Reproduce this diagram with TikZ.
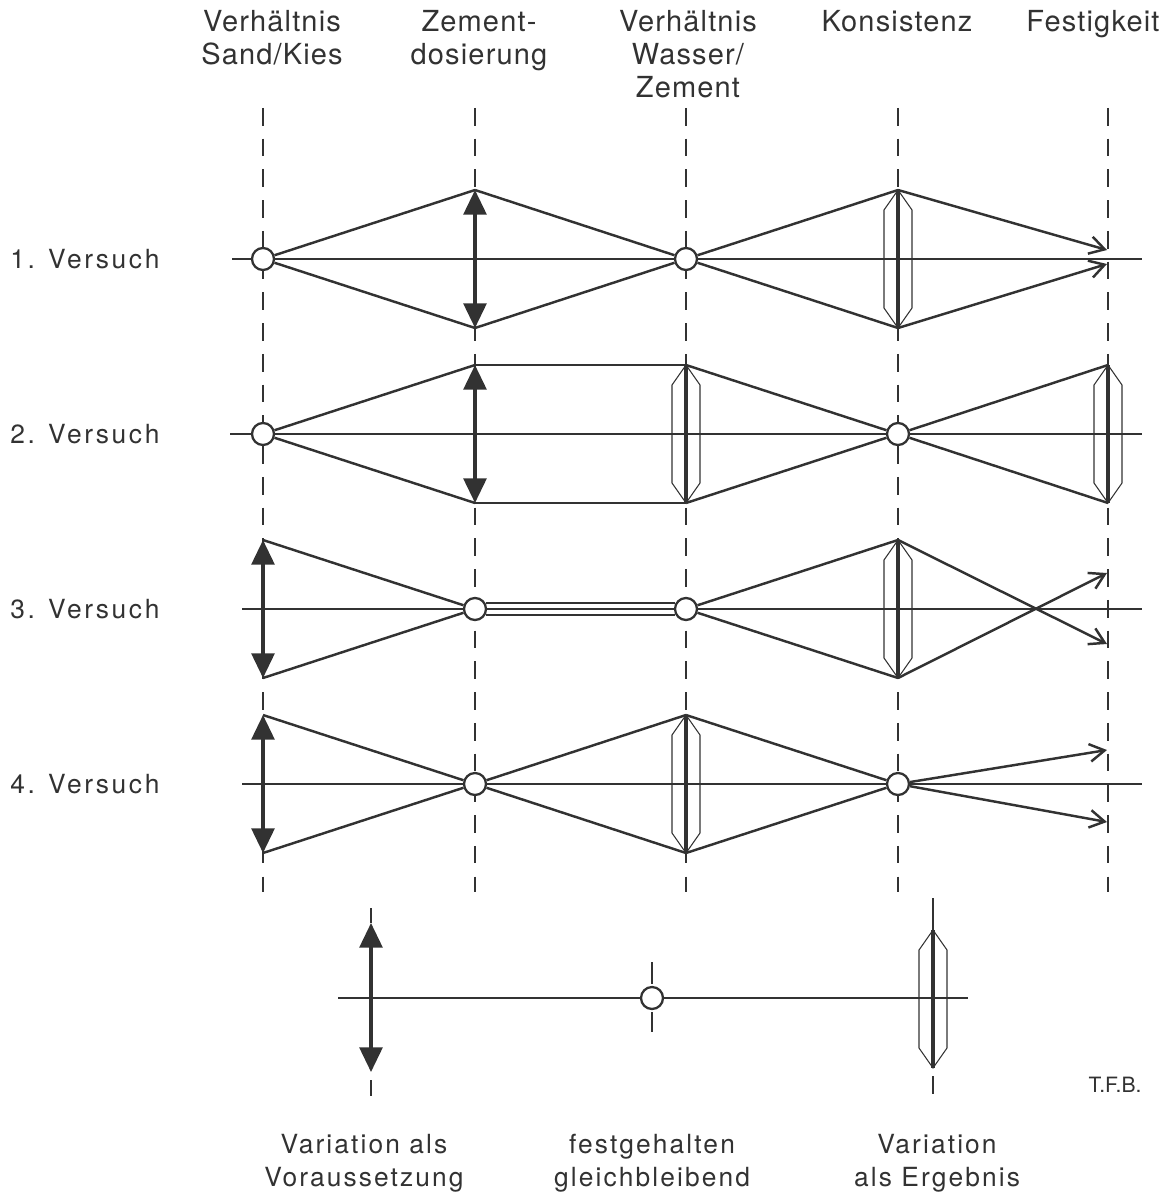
\documentclass[tikz,border=0pt]{standalone}
\usepackage{fontspec}
\setmainfont{TeX Gyre Heros}
\usetikzlibrary{arrows.meta, positioning}

\definecolor{ink}{RGB}{50,50,50}

\begin{document}
\begin{tikzpicture}[
    x=0.02cm, y=-0.02cm,
    >={Straight Barb[length=8.5pt, width=10pt]},
    guide/.style={draw=ink, line width=0.7pt, dash pattern=on 10pt off 7.5pt},
    axis/.style={draw=ink, line width=0.7pt},
    ray/.style={draw=ink, line width=1.4pt, line join=round},
    link/.style={draw=ink, line width=0.9pt},
    vary/.style={draw=ink, line width=1.8pt, {Triangle[length=14pt, width=13pt]}-{Triangle[length=14pt, width=13pt]}},
    hull/.style={draw=ink, line width=0.6pt},
    core/.style={draw=ink, line width=1.9pt},
    ring/.style={circle, draw=ink, fill=white, line width=1.3pt, minimum size=0.44cm, inner sep=0pt},
    head/.style={anchor=north, align=center, inner sep=0pt, text=ink,
        font=\fontsize{16.5}{18.8}\selectfont\addfontfeature{LetterSpace=4}},
    trial/.style={anchor=west, inner sep=0pt, text=ink,
        font=\fontsize{15}{18}\selectfont\addfontfeature{LetterSpace=10}},
    note/.style={align=center, inner sep=0pt, text=ink,
        font=\fontsize{15}{18.8}\selectfont\addfontfeature{LetterSpace=8}}
]
\useasboundingbox (0,0) rectangle (1163,1196);

% Grid ---------------------------------------------------------

\foreach \c/\x in {1/263,2/475,3/686,4/898,5/1108}
  \foreach \r/\y in {1/259,2/434,3/609,4/784} {
    \coordinate (m\r\c) at (\x,\y);
    \coordinate (t\r\c) at (\x,\y-69);
    \coordinate (b\r\c) at (\x,\y+69);
  }

\coordinate (e1t) at (1107,250);
\coordinate (e1b) at (1107,264);
\coordinate (e3t) at (1107,573);
\coordinate (e3b) at (1107,644);
\coordinate (e4t) at (1107,750);
\coordinate (e4b) at (1107,822);

% Labels -------------------------------------------------------

\node[head] (h1) at (272,10) {Verhältnis\\Sand/Kies};
\node[head] (h2) at (479,10) {Zement-\\dosierung};
\node[head] (h3) at (688,10) {Verhältnis\\Wasser/\\Zement};
\node[head] (h4) at (897,10) {Konsistenz};
\node[head] (h5) at (1093,10) {Festigkeit};

\node[trial] (v1) at (10,259) {1. Versuch};
\node[trial] (v2) at (10,434) {2. Versuch};
\node[trial] (v3) at (10,609) {3. Versuch};
\node[trial] (v4) at (10,784) {4. Versuch};

% Lines --------------------------------------------------------

\foreach \x in {263,475,686,898,1108}
  \draw[guide] (\x,108) -- (\x,892);

\draw[axis] (232,259) -- (1142,259);
\draw[axis] (230,434) -- (1142,434);
\draw[axis] (242,609) -- (1142,609);
\draw[axis] (242,784) -- (1142,784);

\foreach \o in {11,13,21,24,32,33,42,44}
  \node[ring] (o\o) at (m\o) {};

\foreach \l in {14,23,25,34,43} {
  \draw[hull] (t\l) -- ++(14,20) -- ++(0,98) -- (b\l) -- ++(-14,-20) -- ++(0,-98) -- cycle;
  \draw[core] (t\l) -- (b\l);
}

\foreach \v in {12,22,31,41}
  \draw[vary] (b\v) -- (t\v);

% 1. Versuch
\draw[ray] (t12) -- (o11) -- (b12);
\draw[ray] (t12) -- (o13) -- (b12);
\draw[ray] (t14) -- (o13) -- (b14);
\draw[ray, ->] (t14) -- (e1t);
\draw[ray, ->] (b14) -- (e1b);

% 2. Versuch
\draw[ray] (t22) -- (o21) -- (b22);
\draw[ray] (t22) -- (t23);
\draw[ray] (b22) -- (b23);
\draw[ray] (t23) -- (o24) -- (b23);
\draw[ray] (t25) -- (o24) -- (b25);

% 3. Versuch
\draw[ray] (t31) -- (o32) -- (b31);
\draw[link] (o32.30) -- (o33.150);
\draw[link] (o32.-30) -- (o33.-150);
\draw[ray] (t34) -- (o33) -- (b34);
\draw[ray, ->] (t34) -- (e3b);
\draw[ray, ->] (b34) -- (e3t);

% 4. Versuch
\draw[ray] (t41) -- (o42) -- (b41);
\draw[ray] (t43) -- (o42) -- (b43);
\draw[ray] (t43) -- (o44) -- (b43);
\draw[ray, ->] (o44) -- (e4t);
\draw[ray, ->] (o44) -- (e4b);

% Legend -------------------------------------------------------

\draw[axis] (338,998) -- (968,998);

\coordinate (lt) at (371,923);
\coordinate (lb) at (371,1072);
\draw[axis] (371,908) -- (lt);
\draw[axis] (371,1080) -- (371,1096);
\draw[vary] (lb) -- (lt);

\node[ring] (lo) at (652,998) {};
\draw[axis] (652,962) -- (652,984);
\draw[axis] (652,1012) -- (652,1032);

\coordinate (lh) at (933,930);
\coordinate (ll) at (933,1068);
\draw[axis] (933,898) -- (lh);
\draw[axis] (933,1076) -- (933,1094);
\draw[hull] (lh) -- ++(14,20) -- ++(0,98) -- (ll) -- ++(-14,-20) -- ++(0,-98) -- cycle;
\draw[core] (lh) -- (ll);

\node[font=\fontsize{12}{14}\selectfont, text=ink, inner sep=0pt] (tfb) at (1115,1085) {T.F.B.};

\node[note] (n1) at (364,1163) {Variation als\\Voraussetzung};
\node[note] (n2) at (652,1163) {festgehalten\\gleichbleibend};
\node[note] (n3) at (937,1163) {Variation\\als Ergebnis};

\end{tikzpicture}
\end{document}
